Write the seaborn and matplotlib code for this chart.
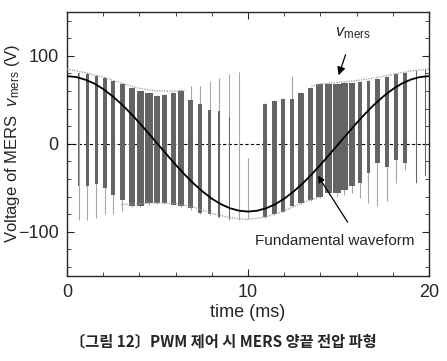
import numpy as np
import pandas as pd
import matplotlib
matplotlib.use('Agg')
import matplotlib.pyplot as plt
from matplotlib.ticker import MultipleLocator
import seaborn as sns

# fundamental waveform (every 0.5 ms)
fund_t = [0, 0.5, 1, 1.5, 2, 2.5, 3, 3.5, 4, 4.5, 5, 5.5, 6, 6.5, 7, 7.5, 8, 8.5, 9, 9.5, 10,
          10.5, 11, 11.5, 12, 12.5, 13, 13.5, 14, 14.5, 15, 15.5, 16, 16.5, 17, 17.5, 18, 18.5, 19, 19.5, 20]
fund_v = [77, 76, 73, 68.6, 62.3, 54.4, 45.3, 35, 23.8, 12, 0, -12, -23.8, -35, -45.3, -54.4, -62.3, -68.6, -73.2, -76, -77,
          -76, -73.2, -68.6, -62.3, -54.4, -45.3, -35, -23.8, -12, 0, 12, 23.8, 35, 45.3, 54.4, 62.3, 68.6, 73.2, 76, 77]

# PWM pulses: centre, width (ms), dark band top/bottom, thin spike top/bottom (V)
pulse_t = [0.64, 1.12, 1.61, 2.08, 2.56, 3.05, 3.57, 4.05, 4.53, 4.97, 5.38, 5.87, 6.32, 6.82, 7.34, 7.87, 8.40, 8.96, 9.50, 10.00,
           10.95, 11.45, 11.93, 12.42, 12.93, 13.46, 13.96, 14.45, 14.90, 15.32, 15.75, 16.17, 16.64, 17.14, 17.67, 18.19, 18.67, 19.30, 19.80]
pulse_w = [0.05, 0.15, 0.17, 0.22, 0.22, 0.28, 0.33, 0.37, 0.41, 0.37, 0.29, 0.31, 0.33, 0.30, 0.22, 0.19, 0.15, 0.07, 0.05, 0.02,
           0.24, 0.24, 0.26, 0.24, 0.33, 0.28, 0.37, 0.41, 0.45, 0.42, 0.30, 0.19, 0.18, 0.28, 0.22, 0.22, 0.19, 0.05, 0.04]
pulse_top = [81, 79, 77, 75, 72, 68, 64, 60, 58, 54, 56, 58, 60, 50, 45, 39, 37, 30, 20, -16,
             45, 49, 51, 51, 58, 64, 68, 68, 68, 69, 69, 70, 72, 74, 76, 79, 81, 83, 85]
pulse_bot = [-48, -48, -46, -50, -58, -64, -71, -71, -67, -67, -67, -69, -71, -73, -79, -80, -83, -85, -85, -85,
             -83, -80, -77, -71, -67, -64, -60, -56, -56, -52, -48, -45, -33, -22, -26, -18, -22, -45, -37]
spike_top = [82, 80, 78, 76, 73, 69, 65, 61, 59, 55, 57, 59, 61, 66, 66, 71, 75, 79, 82, -16,
             46, 50, 52, 77, 59, 65, 69, 69, 69, 70, 70, 71, 73, 75, 77, 80, 82, 84, 85]
spike_bot = [-86, -86, -84, -80, -80, -76, -72, -72, -69, -68, -68, -70, -72, -75, -80, -81, -84, -86, -86, -85,
             -84, -81, -78, -72, -68, -65, -61, -58, -60, -58, -56, -62, -67, -71, -65, -45, -30, -45, -37]

# dotted envelopes
env_up_t = [0, 1, 2, 3, 4, 5, 6, 6.5]
env_up_v = [85, 81, 76, 69, 63, 60, 60, 61]
env_up2_t = [13.5, 14, 15, 16, 17, 18, 19, 20]
env_up2_v = [66, 68, 70, 72, 75, 79, 83, 85]
env_lo_t = [3, 4, 5, 6, 7, 8, 9, 10, 11, 12, 13, 14]
env_lo_v = [-69, -68, -67, -68, -72, -79, -84, -86, -83, -76, -67, -60]

sns.set_style('ticks')
plt.rcParams['font.family'] = ['Liberation Sans', 'Noto Sans CJK KR', 'DejaVu Sans']
plt.rcParams['mathtext.fontset'] = 'custom'
plt.rcParams['mathtext.rm'] = 'Liberation Sans'
plt.rcParams['mathtext.it'] = 'Liberation Sans:italic'

fig = plt.figure(figsize=(4.47, 3.61), dpi=100)
ax = fig.add_axes([0.150, 0.236, 0.810, 0.731])

ax.axhline(0, color='black', lw=0.8, ls=(0, (3, 2)), zorder=1)

ax.vlines(pulse_t, spike_bot, spike_top, color='#a8a8a8', lw=0.8, zorder=2)
ax.bar(pulse_t, np.array(pulse_top) - np.array(pulse_bot), width=pulse_w, bottom=pulse_bot,
       color='#646464', edgecolor='none', zorder=3)

for et, ev in [(env_up_t, env_up_v), (env_up2_t, env_up2_v), (env_lo_t, env_lo_v)]:
    sns.lineplot(x=et, y=ev, ax=ax, color='#999999', lw=0.9, ls=(0, (1, 1)), zorder=4)

sns.lineplot(x=fund_t, y=fund_v, ax=ax, color='black', lw=1.3, zorder=5)

ax.set_xlim(0, 20)
ax.set_ylim(-150, 150)
ax.xaxis.set_major_locator(MultipleLocator(10))
ax.xaxis.set_minor_locator(MultipleLocator(2))
ax.yaxis.set_major_locator(MultipleLocator(100))
ax.yaxis.set_minor_locator(MultipleLocator(20))
ax.tick_params(which='both', direction='in', top=True, right=True, labelsize=13, pad=6)
ax.tick_params(which='major', length=5)
ax.tick_params(which='minor', length=3)
ax.set_yticks([-100, 0, 100])
ax.set_yticklabels(['\u2212100', '0', '100'])
for s in ax.spines.values():
    s.set_linewidth(1.0)

ax.set_xlabel('time (ms)', fontsize=13, labelpad=2)
ax.set_ylabel('Voltage of MERS  $v_{\\mathrm{mers}}$ (V)', fontsize=12)
ax.yaxis.set_label_coords(-0.125, 0.5)

ax.annotate('$v_{\\mathrm{mers}}$', xy=(15.0, 78), xytext=(14.8, 126), fontsize=12,
            ha='left', va='center',
            arrowprops=dict(arrowstyle='-|>', color='black', lw=0.9, shrinkA=8, shrinkB=0))
ax.annotate('Fundamental waveform', xy=(13.85, -36), xytext=(10.4, -110), fontsize=11,
            ha='left', va='center')
ax.annotate('', xy=(13.85, -36), xytext=(15.5, -89),
            arrowprops=dict(arrowstyle='-|>', color='black', lw=0.9, shrinkA=0, shrinkB=0))

fig.text(0.50, 0.055, '〔그림 12〕PWM 제어 시 MERS 양끝 전압 파형', ha='center', va='center',
         fontsize=11, fontweight='bold', family=['Noto Sans CJK KR', 'DejaVu Sans'])

fig.savefig('out.png', dpi=100)
